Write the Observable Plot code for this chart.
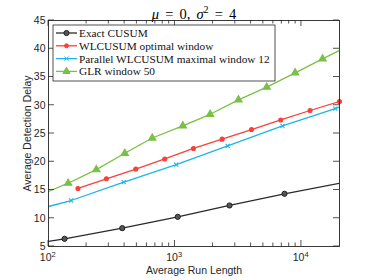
<!DOCTYPE html>
<html><head><meta charset="utf-8">
<script src="https://cdn.jsdelivr.net/npm/d3@7"></script>
<script src="https://cdn.jsdelivr.net/npm/@observablehq/plot@0.6"></script>
<style>body{margin:0;background:#fff}</style>
</head><body><div id="chart"></div><script>
// ---- data ----
const seriesNames = ["Exact CUSUM", "WLCUSUM optimal window", "Parallel WLCUSUM maximal window 12", "GLR window 50"];
const seriesColors = ["#2a2a2a", "#f8403a", "#1db3ec", "#79c046"];

// line paths (ARL, delay)
const cusumLineARL   = [100, 134, 383, 1052, 2700, 7350, 20000];
const cusumLineDelay = [5.9, 6.36, 8.25, 10.25, 12.26, 14.33, 16.2];
const wlLineARL      = [171, 287, 490, 830, 1400, 2360, 4030, 6860, 11700, 20000];
const wlLineDelay    = [15.27, 16.98, 18.7, 20.5, 22.35, 24.0, 25.7, 27.4, 29.07, 30.66];
const parLineARL     = [100, 151, 394, 1024, 2610, 7080, 18500, 20000];
const parLineDelay   = [12.08, 13.14, 16.4, 19.5, 22.8, 26.36, 29.4, 29.67];
const glrLineARL     = [100, 143, 239, 401, 661, 1153, 1897, 3177, 5320, 8910, 14700, 20000];
const glrLineDelay   = [14.73, 16.2, 18.6, 21.5, 24.2, 26.36, 28.4, 30.96, 33.2, 35.74, 38.2, 39.7];

// marker points
const cusumMarkARL   = [134, 383, 1052, 2700, 7350];
const cusumMarkDelay = [6.36, 8.25, 10.25, 12.26, 14.33];
const wlMarkARL      = [171, 287, 490, 830, 1400, 2360, 4030, 6860, 11700, 20000];
const wlMarkDelay    = [15.27, 16.98, 18.7, 20.5, 22.35, 24.0, 25.7, 27.4, 29.07, 30.66];
const parMarkARL     = [151, 394, 1024, 2610, 7080, 18500];
const parMarkDelay   = [13.14, 16.4, 19.5, 22.8, 26.36, 29.4];
const glrMarkARL     = [143, 239, 401, 661, 1153, 1897, 3177, 5320, 8910, 14700];
const glrMarkDelay   = [16.2, 18.6, 21.5, 24.2, 26.36, 28.4, 30.96, 33.2, 35.74, 38.2];

const xMajorTicks = [100, 1000, 10000];
const xExponents  = ["2", "3", "4"];
const xMinorTicks = [200,300,400,500,600,700,800,900,2000,3000,4000,5000,6000,7000,8000,9000];
const yTicks = [5, 10, 15, 20, 25, 30, 35, 40, 45];
const xLabel = "Average Run Length";
const yLabel = "Average Detection Delay";

const zip = (xs, ys) => xs.map((x, i) => ({x, y: ys[i]}));
const lines = [
  zip(cusumLineARL, cusumLineDelay), zip(wlLineARL, wlLineDelay),
  zip(parLineARL, parLineDelay), zip(glrLineARL, glrLineDelay)
];
const marks = [
  zip(cusumMarkARL, cusumMarkDelay), zip(wlMarkARL, wlMarkDelay),
  zip(parMarkARL, parMarkDelay), zip(glrMarkARL, glrMarkDelay)
];
const symbols = ["circle", "circle", "times", "triangle"];
const symbolR = [2.6, 2.0, 2.0, 2.7];
const fills = ["#555", seriesColors[1], "none", seriesColors[3]];
const strokes = ["#222", seriesColors[1], seriesColors[2], seriesColors[3]];

const ink = "#262626";
const sans = "Liberation Sans, Arial, sans-serif";
const serif = "Liberation Serif, Times New Roman, serif";

const plot = Plot.plot({
  width: 374, height: 280,
  marginLeft: 48, marginRight: 35, marginTop: 20, marginBottom: 34,
  style: {background: "#fff", fontFamily: sans, fontSize: "10px", color: ink},
  x: {type: "log", domain: [100, 20000], axis: null},
  y: {domain: [5, 45], axis: null},
  marks: [
    Plot.axisY({ticks: yTicks, anchor: "left", tickSize: 0, tickPadding: 3, fontSize: 10.5, label: null, fill: ink}),
    // x tick labels 10^k
    Plot.text(xMajorTicks, {x: d => d, frameAnchor: "bottom", text: () => "10", textAnchor: "end", dx: 3, dy: 14, fontSize: 10.5, fill: ink}),
    Plot.text(xMajorTicks, {x: d => d, frameAnchor: "bottom", text: (d, i) => xExponents[i], textAnchor: "start", dx: 3, dy: 10, fontSize: 7.5, fill: ink}),
    // axis titles
    Plot.text([xLabel], {frameAnchor: "bottom", dy: 27, fontSize: 10.5, fill: ink}),
    Plot.text([yLabel], {frameAnchor: "left", rotate: -90, textAnchor: "middle", lineAnchor: "middle", dx: -21, fontSize: 10.5, fill: ink}),
    // title (Greek letters styled below)
    Plot.text(["μ = 0, σ2 = 4"], {frameAnchor: "top", lineAnchor: "bottom", dy: -2, fontSize: 14.5, fontFamily: serif, fill: "#000", className: "ttl"}),
    // series
    ...lines.map((d, i) => Plot.line(d, {x: "x", y: "y", stroke: seriesColors[i], strokeWidth: 1.3, clip: true})),
    ...marks.map((d, i) => Plot.dot(d, {
      x: "x", y: "y", symbol: () => symbols[i], r: symbolR[i],
      fill: fills[i], stroke: strokes[i], strokeWidth: i === 0 ? 1 : 1.1
    })),
    Plot.frame({stroke: ink, strokeWidth: 0.9})
  ]
});

document.getElementById("chart").appendChild(plot);
const svg = d3.select(plot);

// Inward ticks on all four sides, placed through the plot's own scales
const sx = plot.scale("x"), sy = plot.scale("y");
const [x0, x1] = sx.range, [y0, y1] = sy.range; // y0 bottom, y1 top
const tg = svg.append("g").attr("stroke", ink).attr("stroke-width", 0.8);
const addX = (vals, len) => vals.forEach(v => {
  const px = sx.apply(v);
  tg.append("line").attr("x1", px).attr("x2", px).attr("y1", y0).attr("y2", y0 - len);
  tg.append("line").attr("x1", px).attr("x2", px).attr("y1", y1).attr("y2", y1 + len);
});
addX(xMajorTicks, 6);
addX(xMinorTicks, 3.5);
yTicks.forEach(v => {
  const py = sy.apply(v);
  tg.append("line").attr("y1", py).attr("y2", py).attr("x1", x0).attr("x2", x0 + 6);
  tg.append("line").attr("y1", py).attr("y2", py).attr("x1", x1).attr("x2", x1 - 6);
});

// Title with italic Greek letters and superscript
svg.selectAll(".ttl text").each(function() {
  const t = d3.select(this);
  t.text(null).attr("word-spacing", "2.5px");
  t.append("tspan").attr("font-style", "italic").text("μ");
  t.append("tspan").text(" = 0, ");
  t.append("tspan").attr("font-style", "italic").text("σ");
  t.append("tspan").attr("font-size", "10px").attr("dy", "-5.5").text("2");
  t.append("tspan").attr("dy", "5.5").text(" = 4");
});

// Legend box
const lg = svg.append("g").attr("text-anchor", "start");
const lx = 53, ly = 25, lw = 222, lh = 56, rowH = 12.8;
lg.append("rect").attr("x", lx).attr("y", ly).attr("width", lw).attr("height", lh)
  .attr("fill", "#fff").attr("stroke", ink).attr("stroke-width", 0.8);
const d3sym = {circle: d3.symbolCircle, times: d3.symbolTimes, triangle: d3.symbolTriangle};
seriesNames.forEach((name, i) => {
  const cy = ly + 8 + i * rowH;
  lg.append("line").attr("x1", lx + 3).attr("x2", lx + 24).attr("y1", cy).attr("y2", cy)
    .attr("stroke", seriesColors[i]).attr("stroke-width", 1.3);
  lg.append("path").attr("transform", `translate(${lx + 13.5},${cy})`)
    .attr("d", d3.symbol(d3sym[symbols[i]], Math.PI * symbolR[i] * symbolR[i])())
    .attr("fill", fills[i]).attr("stroke", strokes[i]).attr("stroke-width", 1);
  lg.append("text").attr("x", lx + 26).attr("y", cy).attr("dy", "0.35em")
    .attr("text-anchor", "start")
    .attr("font-family", serif).attr("font-size", 11.3).attr("fill", "#111").text(name);
});
</script></body></html>
